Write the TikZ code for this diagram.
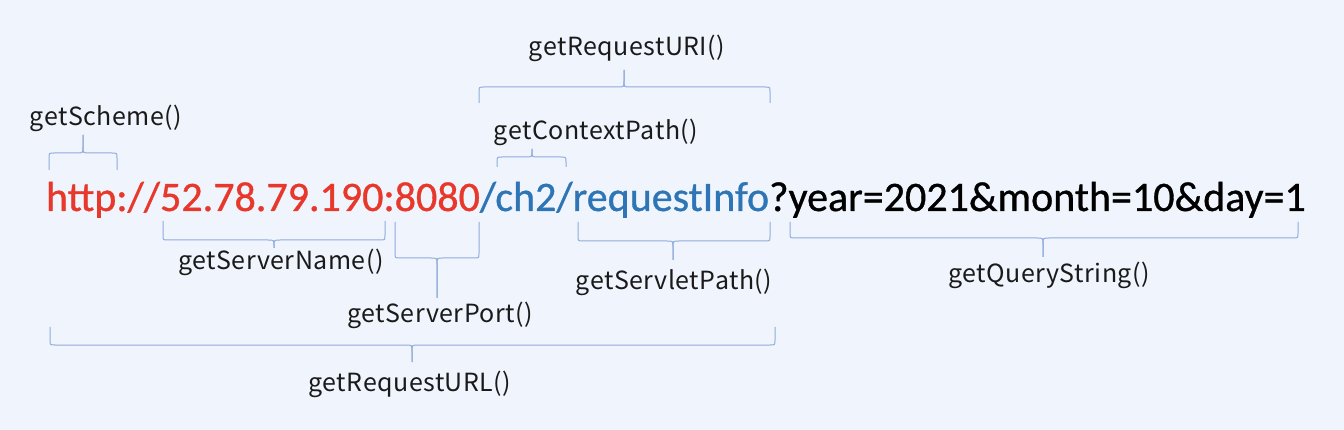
\documentclass[tikz,border=0pt]{standalone}
\usepackage{fontspec}
\usetikzlibrary{calc}
\newfontfamily\urlfont[FakeBold=0.8]{Carlito}
\newfontfamily\lblfont[LetterSpace=2]{Noto Sans CJK JP}
\definecolor{bgcol}{HTML}{F0F5FD}
\definecolor{brccol}{HTML}{8FAADC}
\definecolor{urlred}{HTML}{E8382B}
\definecolor{urlblue}{HTML}{2E75B6}
\definecolor{lbltext}{HTML}{1A1A1A}
\tikzset{
  urlseg/.style={font=\urlfont\fontsize{42}{50}\selectfont, inner sep=0pt, outer sep=0pt, anchor=base west},
  lbl/.style={font=\lblfont\fontsize{25}{30}\selectfont, text=lbltext, inner sep=0pt, anchor=base},
  brc/.style={draw=brccol, line width=1pt, line join=round}
}
% #1 x1, #2 x2, #3 tip x, #4 end y, #5 bar y, #6 tip y
\newcommand\ubrc[6]{%
  \draw[brc] (#1,#4) -- ($(#1,#5)!5pt!(#1,#4)$) .. controls (#1,#5) .. ($(#1,#5)!5pt!(#3,#5)$)
     -- ($(#3,#5)!6pt!(#1,#5)$) .. controls (#3,#5) .. ($(#3,#5)!6pt!(#3,#6)$) -- (#3,#6);
  \draw[brc] (#2,#4) -- ($(#2,#5)!5pt!(#2,#4)$) .. controls (#2,#5) .. ($(#2,#5)!5pt!(#3,#5)$)
     -- ($(#3,#5)!6pt!(#2,#5)$) .. controls (#3,#5) .. ($(#3,#5)!6pt!(#3,#6)$) -- (#3,#6);
}
\begin{document}
\begin{tikzpicture}[x=1pt,y=-1pt]
\fill[bgcol] (0,0) rectangle (1344,430);
\useasboundingbox (0,0) rectangle (1344,430);
% URL
\node[urlseg, text=urlred] (scheme) at (46,211) {http://};
\node[urlseg, text=urlred] (host) at (scheme.base east) {52.78.79.190:8080};
\node[urlseg, text=urlblue] (path) at (host.base east) {/ch2/requestInfo};
\node[urlseg, text=black] (query) at (path.base east) {?year=2021\&month=10\&day=1};
% labels
\node[lbl] (lscheme) at (106,126) {getScheme()};
\node[lbl] (luri) at (627,56) {getRequestURI()};
\node[lbl] (lctx) at (596,140) {getContextPath()};
\node[lbl] (lname) at (281,270) {getServerName()};
\node[lbl] (lport) at (440,323) {getServerPort()};
\node[lbl] (lservlet) at (674,290) {getServletPath()};
\node[lbl] (lquery) at (1049,283) {getQueryString()};
\node[lbl] (lurl) at (410,391) {getRequestURL()};
% braces
\ubrc{49}{117}{83}{170}{153}{135}
\ubrc{479}{770}{624}{103}{87}{70}
\ubrc{497}{566}{532}{167}{157}{149}
\ubrc{163}{385}{274}{221}{240}{248}
\ubrc{395}{479}{437}{222}{258}{298}
\ubrc{578}{770}{673}{222}{241}{260}
\ubrc{790}{1298}{1043}{222}{238}{257}
\ubrc{50}{775}{412}{327}{345}{362}
\end{tikzpicture}
\end{document}
